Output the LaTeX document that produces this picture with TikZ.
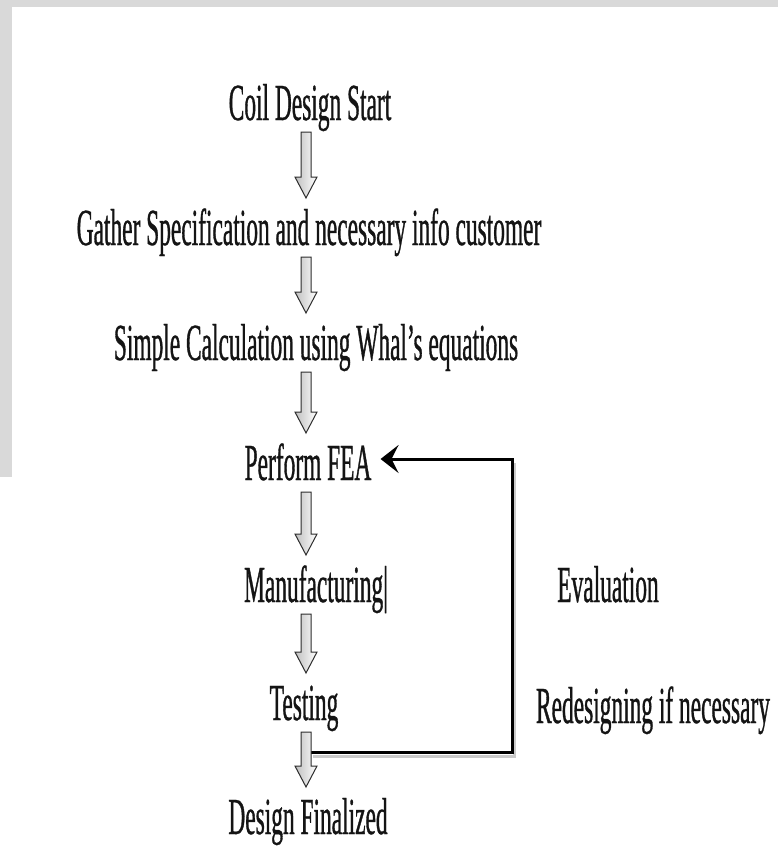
\documentclass[tikz,border=0pt]{standalone}
\usepackage{fontspec}
\setmainfont[FakeStretch=0.45, FakeBold=0.6]{Liberation Serif}
\usepackage{tikz}
\usetikzlibrary{arrows.meta, calc}
\definecolor{mydark}{RGB}{20,20,20}
\definecolor{mgframe}{RGB}{217,217,217}
\definecolor{arrowline}{RGB}{45,45,45}
\definecolor{shadowgrey}{RGB}{150,150,150}
\tikzset{
  steptext/.style={anchor=base, inner sep=0pt,
    font=\fontsize{52}{60}\selectfont, text=mydark},
  hollowarrow/.style={draw=arrowline, line width=1pt,
    left color=gray!50, right color=white, line join=miter},
  loopline/.style={line width=3pt, color=black,
    -{Stealth[length=18pt, width=28pt, inset=7pt]}},
  loopshadow/.style={line width=3pt, color=shadowgrey, opacity=0.5}
}
% hollow block arrow from one step text down to the next
\newcommand{\flowarrow}[2]{%
  \path[hollowarrow] let \p1=(#1.base), \p2=(#2.base), \p3=(axis) in
    (\x3-5pt,\y1-12pt) -- (\x3+5pt,\y1-12pt) -- (\x3+5pt,\y2+68pt)
    -- (\x3+11pt,\y2+68pt) -- (\x3,\y2+47pt) -- (\x3-11pt,\y2+68pt)
    -- (\x3-5pt,\y2+68pt) -- cycle;}

\begin{document}
\begin{tikzpicture}[x=1pt, y=-1pt]
  % ── Page background and grey frame strips ───────────────────────────────
  \fill[white] (0,0) rectangle (778,847);
  \fill[mgframe] (0,0) rectangle (778,7);
  \fill[mgframe] (0,0) rectangle (12,477);
  \useasboundingbox (0,0) rectangle (778,847);
  \coordinate (axis) at (306,0);

  % ── Process steps ───────────────────────────────────────────────────────
  \node[steptext] (start)  at (310,120) {Coil Design Start};
  \node[steptext] (gather) at (309,245) {Gather Specification and necessary info customer};
  \node[steptext] (calc)   at (316,360) {Simple Calculation using Whal’s equations};
  \node[steptext] (fea)    at (308,480) {Perform FEA};
  \node[steptext] (manuf)  at (316,602) {Manufacturing|};
  \node[steptext] (test)   at (304,720) {Testing};
  \node[steptext] (final)  at (308,834) {Design Finalized};

  % ── Side notes on the loop ──────────────────────────────────────────────
  \node[steptext] (eval)     at (608,602) {Evaluation};
  \node[steptext] (redesign) at (653,723) {Redesigning if necessary};

  % ── Feedback loop: testing back to FEA ──────────────────────────────────
  \coordinate (tap)  at (311,752);
  \coordinate (turn) at (512,459);
  \draw[loopshadow] ([shift={(2,4)}]tap) -| ([shift={(2,4)}]turn);
  \draw[loopline] (tap) -| (turn) -- ([xshift=9pt]fea.east |- turn);

  % ── Forward arrows ──────────────────────────────────────────────────────
  \flowarrow{start}{gather}
  \flowarrow{gather}{calc}
  \flowarrow{calc}{fea}
  \flowarrow{fea}{manuf}
  \flowarrow{manuf}{test}
  \flowarrow{test}{final}
\end{tikzpicture}
\end{document}
